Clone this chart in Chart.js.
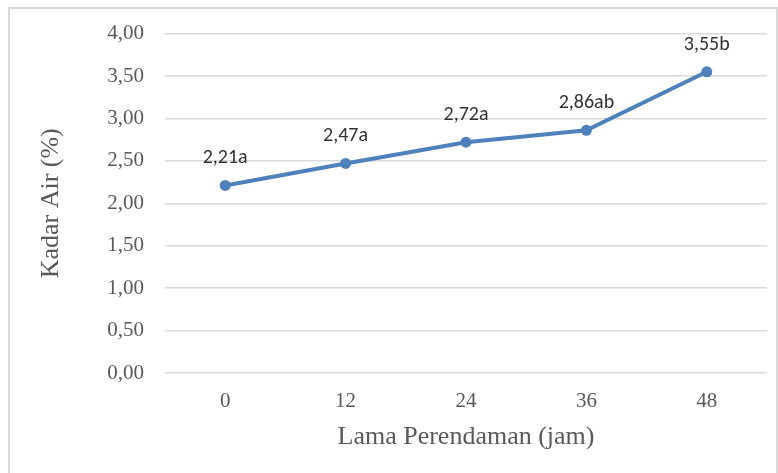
<!DOCTYPE html>
<html>
<head>
<meta charset="utf-8">
<script src="https://cdn.jsdelivr.net/npm/chart.js@4/dist/chart.umd.min.js"></script>
<style>
  html, body { margin: 0; padding: 0; background: #ffffff; }
  #wrap { width: 778px; height: 473px; }
</style>
</head>
<body>
<div id="wrap"><canvas id="chart" width="778" height="473"></canvas></div>
<script>
// Soaking time (hours) and water content (%)
const categories = ['0', '12', '24', '36', '48'];
const kadarAir = [2.21, 2.47, 2.72, 2.86, 3.55];
const notasi = ['a', 'a', 'a', 'ab', 'b'];
const yTicks = [0, 0.5, 1, 1.5, 2, 2.5, 3, 3.5, 4];

const fmt = v => v.toFixed(2).replace('.', ',');

// White background with a light frame around the chart
const framePlugin = {
  id: 'frame',
  beforeDraw(chart) {
    const ctx = chart.ctx;
    ctx.save();
    ctx.fillStyle = '#ffffff';
    ctx.fillRect(0, 0, chart.width, chart.height);
    ctx.strokeStyle = '#d9d9d9';
    ctx.lineWidth = 2;
    ctx.strokeRect(9, 8, 768, 480);
    ctx.restore();
  }
};

// Value labels with significance letters above each point
const valueLabels = {
  id: 'valueLabels',
  afterDatasetsDraw(chart) {
    const ctx = chart.ctx;
    const meta = chart.getDatasetMeta(0);
    ctx.save();
    ctx.font = '20px Carlito, Calibri, "Liberation Sans", sans-serif';
    ctx.fillStyle = '#333333';
    ctx.textAlign = 'center';
    ctx.textBaseline = 'middle';
    meta.data.forEach((pt, i) => {
      ctx.fillText(fmt(kadarAir[i]) + notasi[i], pt.x, pt.y - 27);
    });
    ctx.restore();
  }
};

const serif = '"Liberation Serif", "Times New Roman", serif';

new Chart(document.getElementById('chart'), {
  type: 'line',
  data: {
    labels: categories,
    datasets: [{
      data: kadarAir,
      borderColor: '#4f81bd',
      backgroundColor: '#4f81bd',
      borderWidth: 4,
      pointRadius: 5.5,
      pointBorderWidth: 0,
      pointBackgroundColor: '#4f81bd',
      tension: 0,
      fill: false
    }]
  },
  options: {
    responsive: false,
    animation: false,
    devicePixelRatio: 1,
    layout: { padding: { top: 33, right: 11, left: 0, bottom: 0 } },
    plugins: {
      legend: { display: false },
      tooltip: { enabled: false }
    },
    scales: {
      x: {
        type: 'category',
        offset: true,
        grid: { display: false, drawTicks: false },
        border: { display: false },
        ticks: {
          color: '#595959',
          font: { family: serif, size: 21 },
          padding: 16,
          maxRotation: 0
        },
        title: {
          display: true,
          text: 'Lama Perendaman (jam)',
          color: '#595959',
          font: { family: serif, size: 26 },
          padding: { top: 0, bottom: 20 }
        },
        afterFit(scale) { scale.height = 100; }
      },
      y: {
        min: 0,
        max: 4,
        afterBuildTicks(scale) { scale.ticks = yTicks.map(v => ({ value: v })); },
        grid: { color: '#d9d9d9', lineWidth: 1.5, drawTicks: false },
        border: { display: false },
        ticks: {
          color: '#595959',
          font: { family: serif, size: 21 },
          padding: 21,
          callback: v => fmt(v)
        },
        title: {
          display: true,
          text: 'Kadar Air (%)',
          color: '#595959',
          font: { family: serif, size: 26 },
          padding: { top: 36, bottom: 0 }
        },
        afterFit(scale) { scale.width = 165; }
      }
    }
  },
  plugins: [framePlugin, valueLabels]
});
</script>
</body>
</html>
